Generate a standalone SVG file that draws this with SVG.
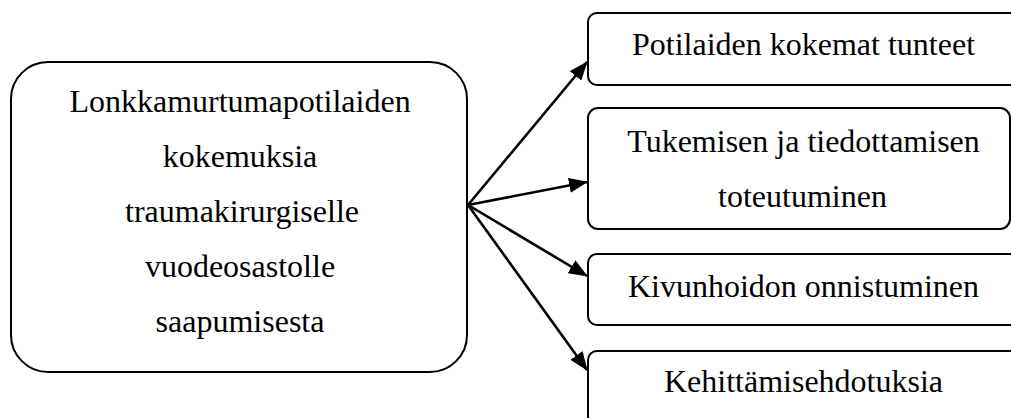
<svg xmlns="http://www.w3.org/2000/svg" width="1011" height="418" viewBox="0 0 1011 418">
<style>
.box{fill:#fff;stroke:#000;stroke-width:2}
.t{font-family:"Liberation Serif","Times New Roman",serif;font-size:32px;fill:#000;text-anchor:middle}
.c{stroke:#000;stroke-width:2.6;fill:none}
</style>
<defs>
<marker id="ah" markerUnits="userSpaceOnUse" markerWidth="19" markerHeight="15" refX="18" refY="7.5" orient="auto" viewBox="0 0 19 15">
<path d="M0,0 L19,7.5 L0,15 Z" fill="#000"/>
</marker>
</defs>
<g id="main">
<rect class="box" x="11" y="62" width="456" height="310" rx="37" ry="37"/>
<text class="t" x="240" y="112">Lonkkamurtumapotilaiden</text>
<text class="t" x="240" y="167">kokemuksia</text>
<text class="t" x="242" y="222">traumakirurgiselle</text>
<text class="t" x="240" y="277">vuodeosastolle</text>
<text class="t" x="240" y="332">saapumisesta</text>
</g>
<g id="n1">
<rect class="box" x="588" y="13" width="440" height="72" rx="9" ry="9"/>
<text class="t" x="803.5" y="55">Potilaiden kokemat tunteet</text>
</g>
<g id="n2">
<rect class="box" x="588" y="108" width="422" height="121" rx="10" ry="10"/>
<text class="t" x="803.5" y="152">Tukemisen ja tiedottamisen</text>
<text class="t" x="802.5" y="207">toteutuminen</text>
</g>
<g id="n3">
<rect class="box" x="588" y="254" width="440" height="71" rx="9" ry="9"/>
<text class="t" x="803.5" y="297">Kivunhoidon onnistuminen</text>
</g>
<g id="n4">
<rect class="box" x="588" y="351" width="440" height="74" rx="9" ry="9"/>
<text class="t" x="803.5" y="392">Kehittämisehdotuksia</text>
</g>
<g id="connectors">
<line class="c" x1="468" y1="205" x2="587" y2="62" marker-end="url(#ah)"/>
<line class="c" x1="468" y1="205" x2="587" y2="182" marker-end="url(#ah)"/>
<line class="c" x1="468" y1="205" x2="587" y2="276" marker-end="url(#ah)"/>
<line class="c" x1="468" y1="205" x2="587" y2="370" marker-end="url(#ah)"/>
</g>
</svg>
